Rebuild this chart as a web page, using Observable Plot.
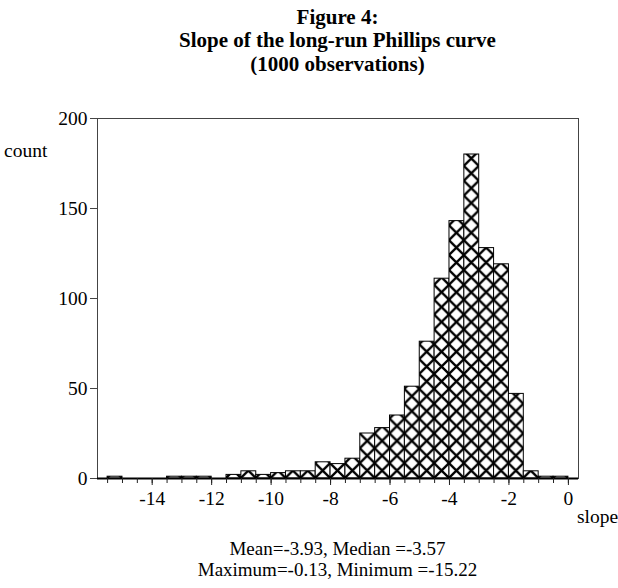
<!DOCTYPE html>
<html>
<head>
<meta charset="utf-8">
<script src="https://cdn.jsdelivr.net/npm/d3@7"></script>
<script src="https://cdn.jsdelivr.net/npm/@observablehq/plot@0.6"></script>
<style>
  html, body { margin: 0; padding: 0; background: white; }
  #wrap { position: relative; width: 618px; height: 588px; font-family: "Liberation Serif", "Times New Roman", serif; color: black; }
  #title { position: absolute; left: 97px; width: 481px; top: 6px; text-align: center; font-weight: bold; font-size: 21px; line-height: 23.3px; }
  #chart { position: absolute; left: 0; top: 75px; }
  #caption { position: absolute; left: 97px; width: 481px; top: 538px; text-align: center; font-size: 19px; line-height: 21.1px; }
  .lab { position: absolute; font-size: 19.5px; line-height: 22px; }
</style>
</head>
<body>
<div id="wrap">
  <div id="title">Figure 4:<br>Slope of the long-run Phillips curve<br>(1000 observations)</div>
  <div id="chart"></div>
  <div class="lab" style="left:4px; top:140px;">count</div>
  <div class="lab" style="left:577px; top:506px;">slope</div>
  <div id="caption">Mean=-3.93, Median =-3.57<br>Maximum=-0.13, Minimum =-15.22</div>
</div>
<script>
// Histogram bins (left edges, width 0.5) and counts
const binStart = [-15.5, -15, -14.5, -14, -13.5, -13, -12.5, -12, -11.5, -11, -10.5, -10, -9.5, -9, -8.5, -8, -7.5, -7, -6.5, -6, -5.5, -5, -4.5, -4, -3.5, -3, -2.5, -2, -1.5, -1, -0.5];
const binWidth = 0.5;
const counts = [1, 0, 0, 0, 1, 1, 1, 0, 2, 4, 2, 3, 4, 4, 9, 8, 11, 25, 28, 35, 51, 76, 111, 143, 180, 128, 119, 47, 4, 1, 1];
const yTicks = [0, 50, 100, 150, 200];
const xMajorTicks = [-14, -12, -10, -8, -6, -4, -2, 0];
const xMinorTicks = [-15.5, -15, -14.5, -14, -13.5, -13, -12.5, -12, -11.5, -11, -10.5, -10, -9.5, -9, -8.5, -8, -7.5, -7, -6.5, -6, -5.5, -5, -4.5, -4, -3.5, -3, -2.5, -2, -1.5, -1, -0.5, 0];

const bins = binStart.map((s, i) => ({x1: s, x2: s + binWidth, count: counts[i]})).filter(d => d.count > 0);

const plot = Plot.plot({
  width: 618,
  height: 470,
  marginLeft: 97,
  marginRight: 40,
  marginTop: 43,
  marginBottom: 67,
  style: {fontFamily: "'Liberation Serif', 'Times New Roman', serif", fontSize: "19.5px", background: "white", color: "black", overflow: "visible"},
  x: {domain: [-15.84, 0.34]},
  y: {domain: [0, 200]},
  marks: [
    Plot.rectY(bins, {x1: "x1", x2: "x2", y: "count", fill: "url(#xhatch)", stroke: "black", strokeWidth: 1}),
    Plot.frame({stroke: "#444", strokeWidth: 1}),
    Plot.ruleY([0], {stroke: "black", strokeWidth: 2}),
    Plot.axisY({ticks: yTicks, tickSize: 7, tickPadding: 3, label: null, stroke: "#444", tickFormat: d => String(d)}),
    Plot.axisX({ticks: xMinorTicks, tickSize: 5, text: null, label: null, stroke: "#222"}),
    Plot.axisX({ticks: xMajorTicks, tickSize: 7, tickPadding: 6, label: null, stroke: "#222", tickFormat: d => String(d)})
  ]
});

// cross-hatch pattern aligned with bin edges
const sx = plot.scale("x"), sy = plot.scale("y");
const w = sx.apply(binStart[1]) - sx.apply(binStart[0]);
const x0 = sx.apply(binStart[0]);
const y0 = sy.apply(0);
const NS = "http://www.w3.org/2000/svg";
const defs = document.createElementNS(NS, "defs");
const pat = document.createElementNS(NS, "pattern");
pat.setAttribute("id", "xhatch");
pat.setAttribute("patternUnits", "userSpaceOnUse");
pat.setAttribute("width", w);
pat.setAttribute("height", w);
pat.setAttribute("x", x0);
pat.setAttribute("y", y0);
const bg = document.createElementNS(NS, "rect");
bg.setAttribute("width", w); bg.setAttribute("height", w); bg.setAttribute("fill", "white");
pat.appendChild(bg);
let d = "";
for (const c of [-w, 0, w]) d += `M${-w},${-w - c}L${2 * w},${2 * w - c}`;
for (const c of [0, w, 2 * w]) d += `M${-w},${c + w}L${2 * w},${c - 2 * w}`;
const p = document.createElementNS(NS, "path");
p.setAttribute("d", d);
p.setAttribute("stroke", "black");
p.setAttribute("stroke-width", "2.3");
p.setAttribute("fill", "none");
pat.appendChild(p);
defs.appendChild(pat);
plot.insertBefore(defs, plot.firstChild);

document.getElementById("chart").appendChild(plot);
</script>
</body>
</html>
